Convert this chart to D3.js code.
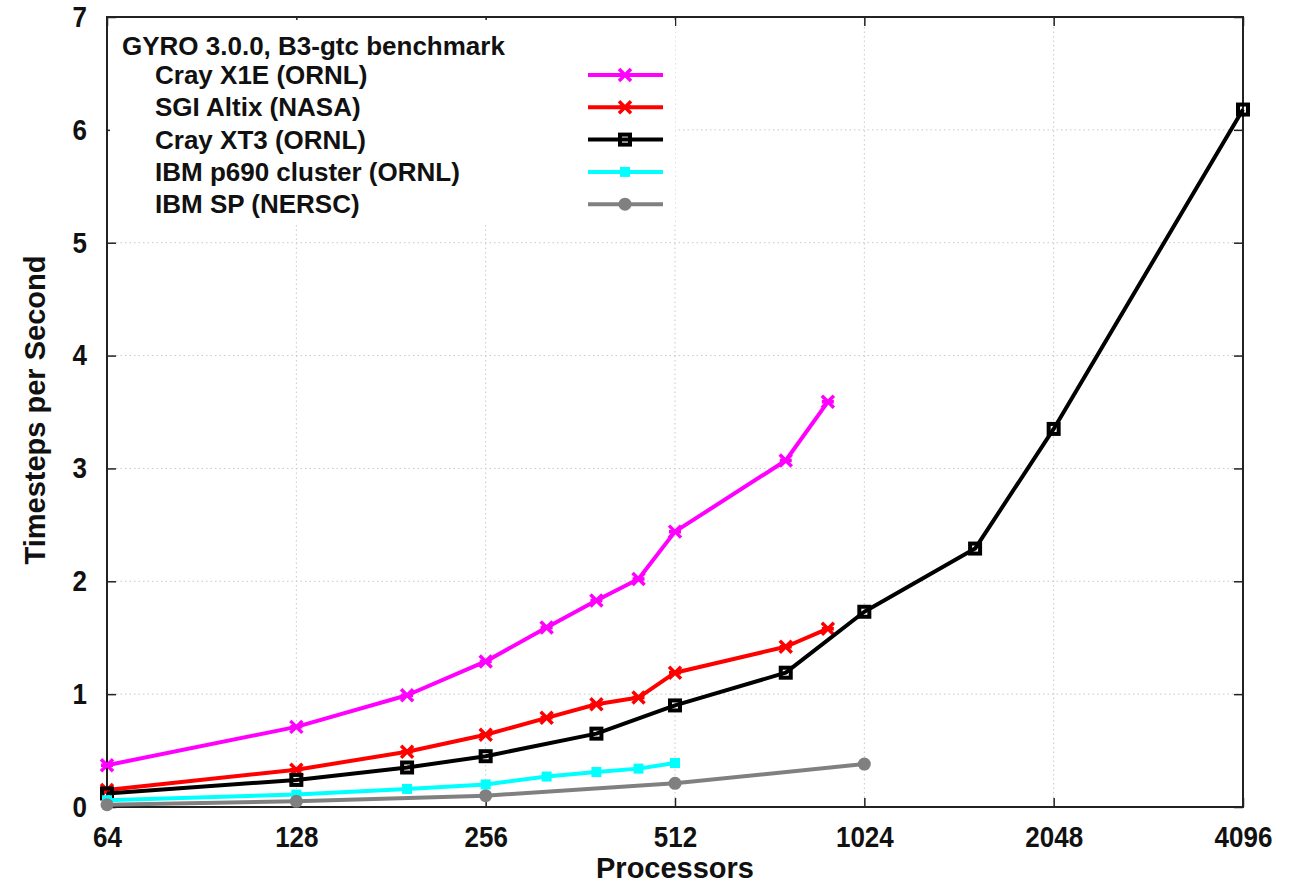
<!DOCTYPE html>
<html>
<head>
<meta charset="utf-8">
<script src="https://cdn.jsdelivr.net/npm/d3@7"></script>
<style>
  body { margin: 0; background: #fff; }
  text { font-family: "Liberation Sans", Arial, Helvetica, sans-serif; font-weight: bold; fill: #111; }
  text.tall { transform-box: fill-box; transform-origin: center; transform: scaleY(1.12); }
  .grid line { stroke: #c8c8c8; stroke-width: 1; stroke-dasharray: 1.5 3; }
</style>
</head>
<body>
<div id="container"></div>
<script>
var chartTitle = 'GYRO 3.0.0, B3-gtc benchmark';
var xTicks = [64, 128, 256, 512, 1024, 2048, 4096];
var yTicks = [0, 1, 2, 3, 4, 5, 6, 7];

var seriesNames = ['Cray X1E (ORNL)', 'SGI Altix (NASA)', 'Cray XT3 (ORNL)', 'IBM p690 cluster (ORNL)', 'IBM SP (NERSC)'];
var x1eProcs = [64, 128, 192, 256, 320, 384, 448, 512, 768, 896];
var x1eVals = [0.37, 0.71, 0.99, 1.29, 1.59, 1.83, 2.02, 2.44, 3.07, 3.59];
var altixProcs = [64, 128, 192, 256, 320, 384, 448, 512, 768, 896];
var altixVals = [0.15, 0.33, 0.49, 0.64, 0.79, 0.91, 0.97, 1.19, 1.42, 1.58];
var xt3Procs = [64, 128, 192, 256, 384, 512, 768, 1024, 1536, 2048, 4096];
var xt3Vals = [0.12, 0.24, 0.35, 0.45, 0.65, 0.90, 1.19, 1.73, 2.29, 3.35, 6.18];
var p690Procs = [64, 128, 192, 256, 320, 384, 448, 512];
var p690Vals = [0.06, 0.11, 0.16, 0.20, 0.27, 0.31, 0.34, 0.39];
var spProcs = [64, 128, 256, 512, 1024];
var spVals = [0.02, 0.05, 0.10, 0.21, 0.38];

var W = 1293, H = 887,
  m = {top: 17, right: 50, bottom: 80, left: 107};

var series = [
  {name: seriesNames[0], procs: x1eProcs, vals: x1eVals, color: '#ff00ff', marker: 'x'},
  {name: seriesNames[1], procs: altixProcs, vals: altixVals, color: '#ff0000', marker: 'x'},
  {name: seriesNames[2], procs: xt3Procs, vals: xt3Vals, color: '#000000', marker: 'box'},
  {name: seriesNames[3], procs: p690Procs, vals: p690Vals, color: '#00ffff', marker: 'fbox'},
  {name: seriesNames[4], procs: spProcs, vals: spVals, color: '#808080', marker: 'circle'}
];

var svg = d3.select('#container').append('svg')
  .attr('width', W).attr('height', H);

var x = d3.scaleLog().base(2).domain([64, 4096]).range([m.left, W - m.right]);
var y = d3.scaleLinear().domain([0, 7]).range([H - m.bottom, m.top]);

// grid
var grid = svg.append('g').attr('class', 'grid');
grid.selectAll('.gx').data(xTicks.slice(1, -1)).enter().append('line')
  .attr('x1', function (d) { return x(d); }).attr('x2', function (d) { return x(d); })
  .attr('y1', y(0)).attr('y2', y(7));
grid.selectAll('.gy').data(yTicks.slice(1, -1)).enter().append('line')
  .attr('y1', function (d) { return y(d); }).attr('y2', function (d) { return y(d); })
  .attr('x1', x(64)).attr('x2', x(4096));

// axes (gnuplot style: ticks inward, mirrored)
function styleAxis(g) {
  g.select('.domain').remove();
  g.selectAll('.tick line').attr('stroke', '#222').attr('stroke-width', 1.5);
  g.selectAll('text').attr('font-size', 26).attr('fill', '#111').attr('class', 'tall');
}
svg.append('g').attr('transform', 'translate(0,' + y(0) + ')')
  .call(d3.axisBottom(x).tickValues(xTicks).tickFormat(d3.format('d')).tickSize(-9).tickPadding(20))
  .call(styleAxis);
svg.append('g').attr('transform', 'translate(0,' + y(7) + ')')
  .call(d3.axisTop(x).tickValues(xTicks).tickFormat('').tickSize(-9))
  .call(styleAxis);
svg.append('g').attr('transform', 'translate(' + x(64) + ',0)')
  .call(d3.axisLeft(y).tickValues(yTicks).tickFormat(d3.format('d')).tickSize(-9).tickPadding(20))
  .call(styleAxis);
svg.append('g').attr('transform', 'translate(' + x(4096) + ',0)')
  .call(d3.axisRight(y).tickValues(yTicks).tickFormat('').tickSize(-9))
  .call(styleAxis);

// legend background
var lg = svg.append('g');
lg.append('rect').attr('x', 110).attr('y', 20).attr('width', 565).attr('height', 205).attr('fill', '#fff');

svg.append('rect')
  .attr('x', x(64)).attr('y', y(7))
  .attr('width', x(4096) - x(64)).attr('height', y(0) - y(7))
  .attr('fill', 'none').attr('stroke', '#222').attr('stroke-width', 2);

// markers
function drawMarker(g, type, color) {
  if (type === 'x') {
    g.append('path').attr('d', 'M-6,-6L6,6M-6,6L6,-6M-6,0L6,0')
      .attr('stroke', color).attr('stroke-width', 3.5).attr('fill', 'none');
  } else if (type === 'box') {
    g.append('rect').attr('x', -5).attr('y', -5).attr('width', 10).attr('height', 10)
      .attr('fill', 'none').attr('stroke', color).attr('stroke-width', 4);
  } else if (type === 'fbox') {
    g.append('rect').attr('x', -5).attr('y', -5).attr('width', 10).attr('height', 10)
      .attr('fill', color);
  } else {
    g.append('circle').attr('r', 6.5).attr('fill', color);
  }
}

var line = d3.line()
  .x(function (d) { return x(d[0]); })
  .y(function (d) { return y(d[1]); });

series.forEach(function (s) {
  var pts = d3.zip(s.procs, s.vals);
  svg.append('path').datum(pts)
    .attr('d', line)
    .attr('fill', 'none').attr('stroke', s.color).attr('stroke-width', 4)
    .attr('stroke-linejoin', 'round');
  svg.selectAll(null).data(pts).enter().append('g')
    .attr('transform', function (d) { return 'translate(' + x(d[0]) + ',' + y(d[1]) + ')'; })
    .each(function () { drawMarker(d3.select(this), s.marker, s.color); });
});

// legend
lg = svg.append('g');
lg.append('text').attr('x', 122).attr('y', 55).attr('font-size', 26).text(chartTitle);
series.forEach(function (s, i) {
  var cy = 75 + i * 32.3;
  lg.append('text').attr('x', 155).attr('y', cy + 9).attr('font-size', 26).text(s.name);
  lg.append('line').attr('x1', 588).attr('x2', 663).attr('y1', cy).attr('y2', cy)
    .attr('stroke', s.color).attr('stroke-width', 4);
  var mk = lg.append('g').attr('transform', 'translate(625,' + cy + ')');
  drawMarker(mk, s.marker, s.color);
});

// axis titles
svg.append('text')
  .attr('x', (x(64) + x(4096)) / 2).attr('y', 878)
  .attr('text-anchor', 'middle').attr('font-size', 29)
  .text('Processors');
svg.append('text')
  .attr('transform', 'translate(45,' + 410 + ') rotate(-90)')
  .attr('text-anchor', 'middle').attr('font-size', 29)
  .text('Timesteps per Second');
</script>
</body>
</html>
